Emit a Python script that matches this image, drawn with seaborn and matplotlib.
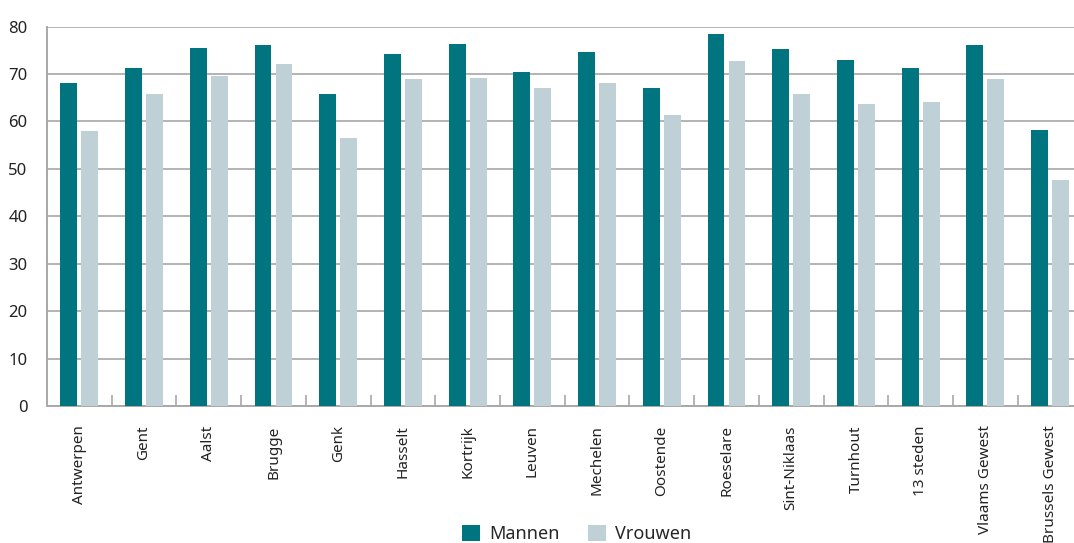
import numpy as np
import pandas as pd
import matplotlib
matplotlib.use("Agg")
import matplotlib.pyplot as plt
import seaborn as sns
from matplotlib.ticker import FixedLocator

steden = ['Antwerpen', 'Gent', 'Aalst', 'Brugge', 'Genk', 'Hasselt', 'Kortrijk',
          'Leuven', 'Mechelen', 'Oostende', 'Roeselare', 'Sint-Niklaas', 'Turnhout',
          '13 steden', 'Vlaams Gewest', 'Brussels Gewest']
mannen = [68.1, 71.2, 75.5, 76.1, 65.8, 74.2, 76.3, 70.4, 74.6, 67.0, 78.4, 75.3,
          72.9, 71.2, 76.1, 58.2]
vrouwen = [58.0, 65.8, 69.6, 72.1, 56.5, 68.9, 69.1, 67.0, 68.1, 61.3, 72.7, 65.8,
           63.7, 64.1, 68.9, 47.6]

df = pd.DataFrame({
    'stad': steden * 2,
    'waarde': mannen + vrouwen,
    'geslacht': ['Mannen'] * len(steden) + ['Vrouwen'] * len(steden),
})

sns.set_style("white")
plt.rcParams['font.family'] = ['Noto Sans', 'DejaVu Sans']

fig = plt.figure(figsize=(10.74, 5.43), dpi=100)
ax = fig.add_axes([0.0438, 0.2523, 0.9562, 0.6988])

palette = {'Mannen': '#00747f', 'Vrouwen': '#bfd1d6'}
sns.barplot(data=df, x='stad', y='waarde', hue='geslacht', palette=palette,
            width=0.65, gap=0.2, saturation=1, linewidth=0, edgecolor='none',
            ax=ax, zorder=3)

ax.set_ylim(0, 80)
ax.set_xlim(-0.5, 15.37)
ax.set_yticks(range(0, 81, 10))
ax.yaxis.grid(True, color='#b3b3b3', linewidth=1.4, zorder=0)
ax.set_axisbelow(True)
ax.set_xlabel('')
ax.set_ylabel('')

for side in ['top', 'right']:
    ax.spines[side].set_visible(False)
for side in ['left', 'bottom']:
    ax.spines[side].set_color('#a8a8a8')
    ax.spines[side].set_linewidth(1.4)

ax.tick_params(axis='y', length=0, pad=14, labelsize=12, labelcolor='#222222')
ax.tick_params(axis='x', which='major', length=0, pad=14, labelsize=11,
               labelcolor='#222222', labelrotation=90)
ax.xaxis.set_minor_locator(FixedLocator(np.arange(0.5, 15.5, 1)))
ax.tick_params(axis='x', which='minor', bottom=True, direction='in', length=8,
               width=1.2, color='#a8a8a8')

ax.legend_.remove()
handles, labels = ax.get_legend_handles_labels()
fig.legend(handles, labels, loc='center', bbox_to_anchor=(0.537, 0.017),
           ncol=2, frameon=False, fontsize=13, handlelength=1.0, handleheight=1.0,
           handletextpad=0.5, columnspacing=1.6, borderaxespad=0)

fig.savefig('out.png', dpi=100)
